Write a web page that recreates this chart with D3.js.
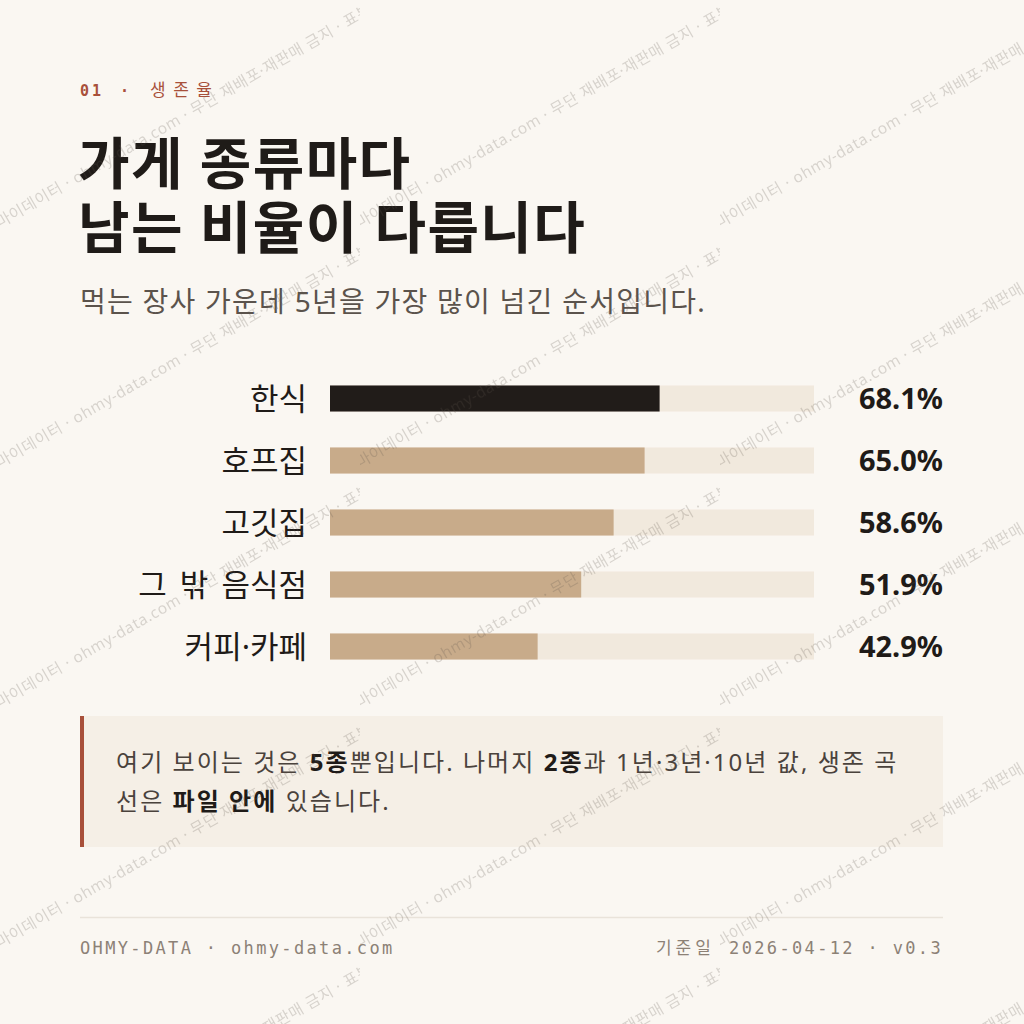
<!DOCTYPE html>
<html>
<head>
    <meta charset="utf-8">
    <title>가게 종류마다 남는 비율이 다릅니다</title>
    <script src="https://cdnjs.cloudflare.com/ajax/libs/d3/7.8.5/d3.min.js"></script>
    <style>
        html, body {
            margin: 0;
            padding: 0;
            background: #faf7f2;
        }

        svg {
            display: block;
        }

        .kr {
            font-family: "Noto Sans", "Noto Sans CJK KR", sans-serif;
        }

        .cjk {
            font-family: "Noto Sans CJK KR", sans-serif;
        }

        .mono {
            font-family: "DejaVu Sans Mono", "Noto Sans CJK KR", monospace;
        }
    </style>
</head>
<body>
<svg id="chart"></svg>

<script>
    const width = 1024;
    const height = 1024;

    // data: 5년 생존율 (%)
    const categories = ["한식", "호프집", "고깃집", "그 밖 음식점", "커피·카페"];
    const survival5y = [68.1, 65.0, 58.6, 51.9, 42.9];
    const highlightCategory = "한식";

    const titleLines = ["가게 종류마다", "남는 비율이 다릅니다"];
    const subtitle = "먹는 장사 가운데 5년을 가장 많이 넘긴 순서입니다.";
    const noteLines = [
        [["여기 보이는 것은 ", false], ["5종", true], ["뿐입니다. 나머지 ", false], ["2종", true], ["과 1년·3년·10년 값, 생존 곡", false]],
        [["선은 ", false], ["파일 안에", true], [" 있습니다.", false]]
    ];
    const watermark = "오마이데이터 · ohmy-data.com · 무단 재배포·재판매 금지 · 표본 데이터";

    const colors = {
        bg: "#faf7f2",
        ink: "#1f1b18",
        muted: "#5b534c",
        accent: "#a8503a",
        bar: "#c8ab8a",
        barHi: "#211c19",
        track: "#f1e9dd",
        note: "#f5efe6",
        rule: "#e9e3da",
        foot: "#8c8176"
    };

    const data = categories.map((c, i) => ({ category: c, value: survival5y[i] }));

    const svg = d3.select("#chart")
        .attr("width", width)
        .attr("height", height);

    svg.append("rect")
        .attr("width", width)
        .attr("height", height)
        .attr("fill", colors.bg);

    // header
    const kicker = svg.append("text")
        .attr("class", "mono")
        .attr("y", 96)
        .attr("fill", colors.accent)
        .attr("font-size", 15);
    kicker.append("tspan").attr("x", 80).attr("font-weight", 700).attr("letter-spacing", 3).text("01");
    kicker.append("tspan").attr("x", 120).attr("font-weight", 700).text("·");
    kicker.append("tspan").attr("x", 150).attr("class", "cjk")
        .attr("font-size", 17).attr("letter-spacing", 7.5).text("생존율");

    const title = svg.append("text")
        .attr("class", "kr")
        .attr("fill", colors.ink)
        .attr("font-size", 56)
        .attr("font-weight", 700)
        .attr("letter-spacing", 1.4);

    title.selectAll("tspan")
        .data(titleLines)
        .join("tspan")
        .attr("x", 78)
        .attr("y", (d, i) => 184 + i * 64)
        .text(d => d);

    svg.append("text")
        .attr("class", "kr")
        .attr("x", 80)
        .attr("y", 312)
        .attr("fill", colors.muted)
        .attr("font-size", 28)
        .attr("letter-spacing", 1.25)
        .text(subtitle);

    // bars
    const x = d3.scaleLinear()
        .domain([0, 100])
        .range([330, 814]);

    const y = d3.scaleBand()
        .domain(categories)
        .range([367.5, 367.5 + 62 * categories.length])
        .paddingInner(0.58)
        .paddingOuter(0.29);

    const rows = svg.append("g")
        .selectAll("g")
        .data(data)
        .join("g");

    rows.append("rect")
        .attr("x", x(0))
        .attr("y", d => y(d.category))
        .attr("width", x(100) - x(0))
        .attr("height", y.bandwidth())
        .attr("fill", colors.track);

    rows.append("rect")
        .attr("x", x(0))
        .attr("y", d => y(d.category))
        .attr("width", d => x(d.value) - x(0))
        .attr("height", y.bandwidth())
        .attr("fill", d => d.category === highlightCategory ? colors.barHi : colors.bar);

    rows.append("text")
        .attr("class", "kr")
        .attr("x", 307)
        .attr("y", d => y(d.category) + y.bandwidth() / 2)
        .attr("dy", "0.36em")
        .attr("text-anchor", "end")
        .attr("fill", colors.ink)
        .attr("font-size", 31)
        .attr("word-spacing", 5)
        .text(d => d.category);

    rows.append("text")
        .attr("class", "kr")
        .attr("x", 943)
        .attr("y", d => y(d.category) + y.bandwidth() / 2)
        .attr("dy", "0.37em")
        .attr("text-anchor", "end")
        .attr("fill", colors.ink)
        .attr("font-size", 29)
        .attr("font-weight", 700)
        .text(d => d3.format(".1f")(d.value) + "%");

    // note box
    svg.append("rect")
        .attr("x", 80)
        .attr("y", 716)
        .attr("width", 863)
        .attr("height", 131)
        .attr("fill", colors.note);

    svg.append("rect")
        .attr("x", 80)
        .attr("y", 716)
        .attr("width", 4)
        .attr("height", 131)
        .attr("fill", colors.accent);

    const note = svg.append("text")
        .attr("class", "kr")
        .attr("font-size", 24)
        .attr("letter-spacing", 2.05)
        .attr("fill", "#4a423c");

    noteLines.forEach((parts, i) => {
        parts.forEach((p, j) => {
            const ts = note.append("tspan")
                .attr("font-weight", p[1] ? 700 : 400)
                .attr("fill", p[1] ? colors.ink : null)
                .text(p[0]);
            if (j === 0) ts.attr("x", 116).attr("y", 771 + i * 39);
        });
    });

    // footer
    svg.append("line")
        .attr("x1", 80)
        .attr("x2", 943)
        .attr("y1", 917.5)
        .attr("y2", 917.5)
        .attr("stroke", colors.rule)
        .attr("stroke-width", 1.5);

    svg.append("text")
        .attr("class", "mono")
        .attr("x", 80)
        .attr("y", 954)
        .attr("font-size", 17)
        .attr("letter-spacing", 2.35)
        .attr("fill", colors.foot)
        .text("OHMY-DATA · ohmy-data.com");

    svg.append("text")
        .attr("class", "mono")
        .attr("x", 943)
        .attr("y", 954)
        .attr("text-anchor", "end")
        .attr("font-size", 17)
        .attr("letter-spacing", 2.35)
        .attr("fill", colors.foot)
        .call(t => {
            t.append("tspan").attr("letter-spacing", 4).text("기준일 ");
            t.append("tspan").text("2026-04-12 · v0.3");
        });

    // watermark tiles, drawn on top
    const pattern = svg.append("defs")
        .append("pattern")
        .attr("id", "wm")
        .attr("patternUnits", "userSpaceOnUse")
        .attr("width", 360)
        .attr("height", 240);

    pattern.append("text")
        .attr("class", "kr")
        .attr("transform", "translate(0,228) rotate(-30)")
        .attr("x", -15)
        .attr("font-size", 15.5)
        .attr("letter-spacing", 0.6)
        .attr("fill", "#5a5048")
        .attr("fill-opacity", 0.22)
        .text(watermark);

    svg.append("rect")
        .attr("width", width)
        .attr("height", height)
        .attr("fill", "url(#wm)")
        .style("pointer-events", "none");
</script>
</body>
</html>
